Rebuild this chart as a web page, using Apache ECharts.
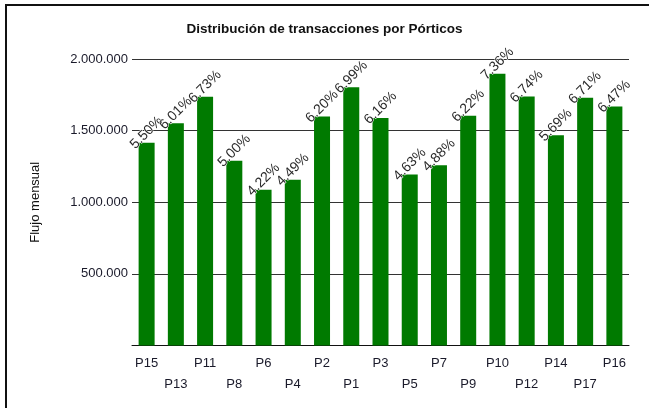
<!DOCTYPE html>
<html>
<head>
<meta charset="utf-8">
<script src="https://cdn.jsdelivr.net/npm/echarts@6/dist/echarts.min.js"></script>
<style>
  html, body { margin: 0; padding: 0; background: #fff; }
  .wrap { position: relative; width: 649px; height: 408px; }
  .frame {
    position: absolute; left: 5px; top: 4px; right: 0; bottom: 0;
    border-top: 2px solid #111; border-left: 2px solid #111;
  }
  #chart { position: absolute; left: 0; top: 0; width: 649px; height: 408px; }
</style>
</head>
<body>
<div class="wrap">
  <div class="frame"></div>
  <div id="chart"></div>
</div>
<script>
// porticos en el orden del grafico
const porticos = ['P15', 'P13', 'P11', 'P8', 'P6', 'P4', 'P2', 'P1', 'P3', 'P5', 'P7', 'P9', 'P10', 'P12', 'P14', 'P17', 'P16']
const flujo = [1416000, 1551000, 1736000, 1290000, 1087000, 1157000, 1598000, 1803000, 1588000, 1194000, 1259000, 1604000, 1897000, 1738000, 1467000, 1730000, 1668000]
const porcentaje = ['5.50', '6.01', '6.73', '5.00', '4.22', '4.49', '6.20', '6.99', '6.16', '4.63', '4.88', '6.22', '7.36', '6.74', '5.69', '6.71', '6.47']
const yTicks = [0, 500000, 1000000, 1500000, 2000000]

const fmtMiles = (v) => String(v).replace(/\B(?=(\d{3})+(?!\d))/g, '.')

const chart = echarts.init(document.getElementById('chart'))

const option = {
  animation: false,
  textStyle: { fontFamily: 'Liberation Sans, Arial, sans-serif' },
  title: {
    text: 'Distribución de transacciones por Pórticos',
    left: 'center',
    top: 17,
    textStyle: { fontSize: 13.5, fontWeight: 'bold', color: '#111' }
  },
  grid: {
    left: 132,
    right: 20,
    top: 59,
    bottom: 62.5
  },
  xAxis: {
    type: 'category',
    data: porticos,
    axisLine: { lineStyle: { color: '#111', width: 1 } },
    axisTick: { alignWithLabel: true, length: 4, lineStyle: { color: '#444' } },
    axisLabel: {
      interval: 0,
      margin: 7,
      fontSize: 13,
      lineHeight: 21,
      color: '#1a1a2a',
      formatter: (v, i) => (i % 2 === 1 ? '\n' + v : v)
    }
  },
  yAxis: {
    type: 'value',
    min: yTicks[0],
    max: yTicks[yTicks.length - 1],
    interval: yTicks[1] - yTicks[0],
    name: 'Flujo mensual',
    nameLocation: 'middle',
    nameRotate: 90,
    nameGap: 90,
    nameTextStyle: { fontSize: 13, color: '#111' },
    axisLine: { show: false },
    axisTick: { show: false },
    axisLabel: {
      fontSize: 13,
      margin: 4,
      color: '#1a1a2a',
      formatter: (v) => (v === 0 ? '' : fmtMiles(v))
    },
    splitLine: { lineStyle: { color: '#333', width: 1 } }
  },
  series: [
    {
      type: 'bar',
      data: flujo,
      barWidth: 16,
      itemStyle: { color: '#007a00' },
      label: {
        show: true,
        position: 'top',
        distance: 10,
        rotate: 45,
        align: 'center',
        verticalAlign: 'middle',
        fontSize: 14,
        color: '#2a2a2a',
        textBorderColor: '#fff',
        textBorderWidth: 1,
        formatter: (p) => porcentaje[p.dataIndex] + '%'
      }
    }
  ]
}

chart.setOption(option)
</script>
</body>
</html>
